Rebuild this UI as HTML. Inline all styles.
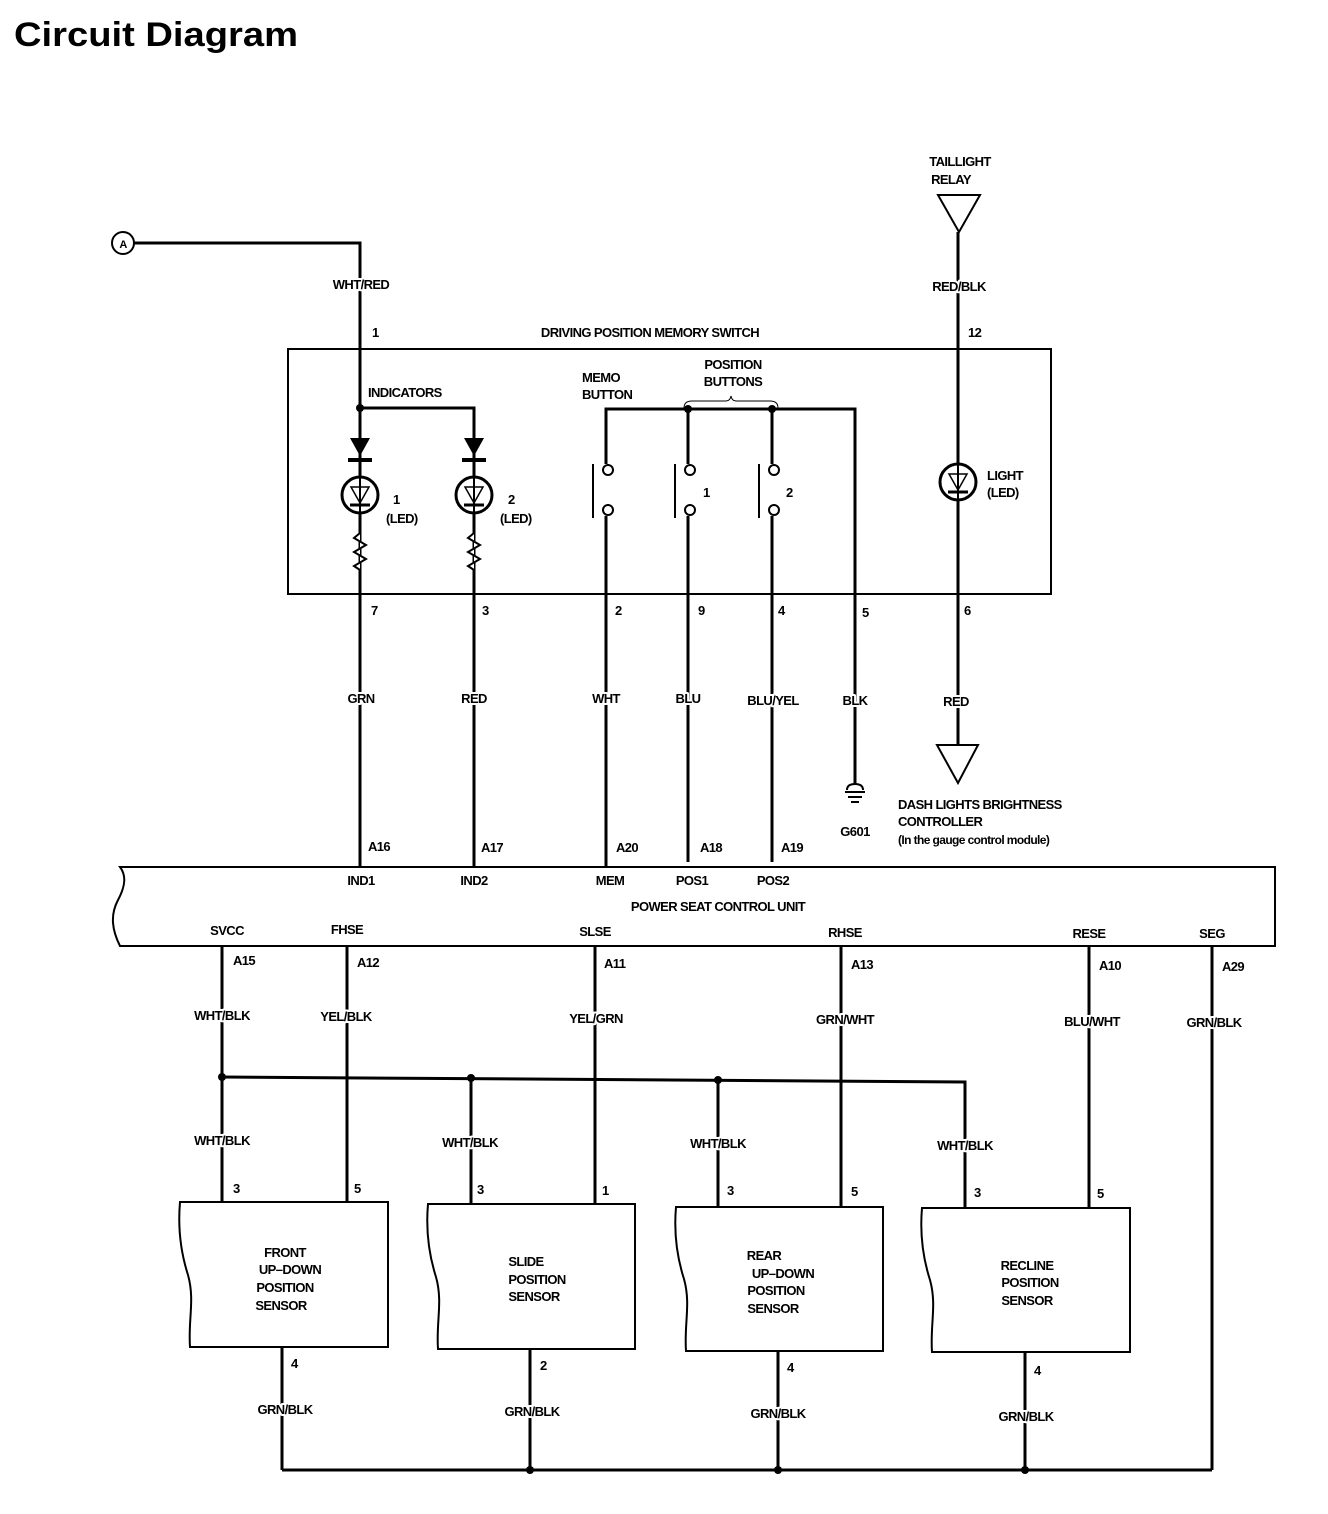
<!DOCTYPE html>
<html><head><meta charset="utf-8"><style>
html,body{margin:0;padding:0;background:#fff}
svg{display:block}
text{font-family:"Liberation Sans",sans-serif;font-weight:bold;font-size:13px;fill:#000;letter-spacing:-0.6px;stroke:#fff;stroke-width:4px;paint-order:stroke;stroke-linejoin:round}
.m{text-anchor:middle}
</style></head><body>
<svg width="1328" height="1514" viewBox="0 0 1328 1514" xmlns="http://www.w3.org/2000/svg">
<text x="14" y="46" textLength="284" lengthAdjust="spacingAndGlyphs" style="font-size:34px;letter-spacing:0;stroke:none">Circuit Diagram</text>

<g stroke="#000" fill="none" stroke-width="3">
<circle cx="123" cy="243" r="11" stroke-width="2"/>
<polyline points="134,243 360,243 360,845"/>
<polyline points="360,408 474,408 474,845"/>
<rect x="288" y="349" width="763" height="245" stroke-width="2"/>
<polyline points="606,464 606,409 855,409 855,785"/>
<line x1="688" y1="409" x2="688" y2="464"/>
<line x1="772" y1="409" x2="772" y2="464"/>
<line x1="606" y1="516" x2="606" y2="845"/>
<line x1="688" y1="516" x2="688" y2="862"/>
<line x1="772" y1="516" x2="772" y2="862"/>
<line x1="606" y1="845" x2="606" y2="867"/>
<line x1="360" y1="845" x2="360" y2="867"/>
<line x1="474" y1="845" x2="474" y2="867"/>
<line x1="958" y1="232" x2="958" y2="745"/>
<path d="M120,867 L1275,867 L1275,946 L120,946 C112,930 110,915 118,900 C126,885 126,875 120,867 Z" stroke-width="2"/>
<line x1="222" y1="946" x2="222" y2="1202"/>
<line x1="347" y1="946" x2="347" y2="1202"/>
<line x1="595" y1="946" x2="595" y2="1204"/>
<line x1="841" y1="946" x2="841" y2="1207"/>
<line x1="1089" y1="946" x2="1089" y2="1208"/>
<line x1="1212" y1="946" x2="1212" y2="1470"/>
<polyline points="222,1077 965,1082 965,1208"/>
<line x1="471" y1="1078" x2="471" y2="1204"/>
<line x1="718" y1="1080" x2="718" y2="1207"/>
<path d="M180,1202 L388,1202 L388,1347 L190,1347 C188,1320 195,1300 188,1275 C180,1250 178,1225 180,1202 Z" stroke-width="2"/>
<path d="M428,1204 L635,1204 L635,1349 L438,1349 C436,1322 443,1302 436,1277 C428,1252 426,1227 428,1204 Z" stroke-width="2"/>
<path d="M676,1207 L883,1207 L883,1351 L686,1351 C684,1324 691,1304 684,1279 C676,1254 674,1230 676,1207 Z" stroke-width="2"/>
<path d="M922,1208 L1130,1208 L1130,1352 L932,1352 C930,1325 937,1305 930,1280 C922,1255 920,1231 922,1208 Z" stroke-width="2"/>
<line x1="282" y1="1347" x2="282" y2="1470"/>
<line x1="530" y1="1349" x2="530" y2="1470"/>
<line x1="778" y1="1351" x2="778" y2="1470"/>
<line x1="1025" y1="1352" x2="1025" y2="1470"/>
<line x1="282" y1="1470" x2="1212" y2="1470"/>
</g>

<g fill="#000">
<circle cx="360" cy="408" r="4"/><circle cx="688" cy="409" r="4"/><circle cx="772" cy="409" r="4"/>
<circle cx="222" cy="1077" r="4"/><circle cx="471" cy="1078" r="4"/><circle cx="718" cy="1080" r="4"/>
<circle cx="530" cy="1470" r="4"/><circle cx="778" cy="1470" r="4"/><circle cx="1025" cy="1470" r="4"/>
</g>

<g>
<g transform="translate(360,0)">
<polygon points="-10,438 10,438 0,456" fill="#000"/>
<line x1="-12" y1="460" x2="12" y2="460" stroke="#000" stroke-width="4"/>
<circle cx="0" cy="495" r="18" fill="#fff" stroke="#000" stroke-width="3"/>
<polygon points="-9,487 9,487 0,503" fill="none" stroke="#000" stroke-width="1.5"/>
<line x1="-10" y1="505" x2="10" y2="505" stroke="#000" stroke-width="3"/>
<line x1="0" y1="477" x2="0" y2="513" stroke="#000" stroke-width="2"/>
<polyline points="0,533 -6,538 6,545 -6,552 6,559 -6,566 0,570" fill="#fff" stroke="#000" stroke-width="2"/>
</g>
<g transform="translate(474,0)">
<polygon points="-10,438 10,438 0,456" fill="#000"/>
<line x1="-12" y1="460" x2="12" y2="460" stroke="#000" stroke-width="4"/>
<circle cx="0" cy="495" r="18" fill="#fff" stroke="#000" stroke-width="3"/>
<polygon points="-9,487 9,487 0,503" fill="none" stroke="#000" stroke-width="1.5"/>
<line x1="-10" y1="505" x2="10" y2="505" stroke="#000" stroke-width="3"/>
<line x1="0" y1="477" x2="0" y2="513" stroke="#000" stroke-width="2"/>
<polyline points="0,533 -6,538 6,545 -6,552 6,559 -6,566 0,570" fill="#fff" stroke="#000" stroke-width="2"/>
</g>
<g transform="translate(958,-13)">
<circle cx="0" cy="495" r="18" fill="#fff" stroke="#000" stroke-width="3"/>
<polygon points="-9,487 9,487 0,503" fill="none" stroke="#000" stroke-width="1.5"/>
<line x1="-10" y1="505" x2="10" y2="505" stroke="#000" stroke-width="3"/>
<line x1="0" y1="477" x2="0" y2="513" stroke="#000" stroke-width="2"/>
</g>
</g>

<g stroke="#000" fill="#fff" stroke-width="2">
<line x1="593" y1="464" x2="593" y2="518"/><circle cx="608" cy="470" r="5"/><circle cx="608" cy="510" r="5"/>
<line x1="675" y1="464" x2="675" y2="518"/><circle cx="690" cy="470" r="5"/><circle cx="690" cy="510" r="5"/>
<line x1="759" y1="464" x2="759" y2="518"/><circle cx="774" cy="470" r="5"/><circle cx="774" cy="510" r="5"/>
<path d="M684,408 Q684,401 692,401 L726,401 Q730,401 731,396 Q732,401 736,401 L770,401 Q778,401 778,408" fill="none" stroke-width="1"/>
</g>

<g stroke="#000" stroke-width="2" fill="none">
<path d="M847,790 Q847,784 855,784 Q863,784 863,790"/>
<line x1="845" y1="792" x2="865" y2="792"/>
<line x1="848" y1="797" x2="862" y2="797"/>
<line x1="851" y1="802" x2="859" y2="802"/>
</g>

<polygon points="938,195 980,195 959,232" fill="#fff" stroke="#000" stroke-width="2"/>
<polygon points="937,745 978,745 958,783" fill="#fff" stroke="#000" stroke-width="2"/>

<text x="123" y="248" class="m" style="font-size:11px;stroke:none">A</text>
<text x="361" y="289" class="m">WHT/RED</text>
<text x="372" y="337">1</text>
<text x="650" y="337" class="m">DRIVING POSITION MEMORY SWITCH</text>
<text x="968" y="337">12</text>
<text x="960" y="166" class="m">TAILLIGHT</text>
<text x="951" y="184" class="m">RELAY</text>
<text x="959" y="291" class="m">RED/BLK</text>
<text x="368" y="397">INDICATORS</text>
<text x="582" y="382">MEMO</text>
<text x="582" y="399">BUTTON</text>
<text x="733" y="369" class="m">POSITION</text>
<text x="733" y="386" class="m">BUTTONS</text>
<text x="393" y="504">1</text>
<text x="386" y="523">(LED)</text>
<text x="508" y="504">2</text>
<text x="500" y="523">(LED)</text>
<text x="703" y="497">1</text>
<text x="786" y="497">2</text>
<text x="987" y="480">LIGHT</text>
<text x="987" y="497">(LED)</text>

<text x="371" y="615">7</text><text x="482" y="615">3</text><text x="615" y="615">2</text>
<text x="698" y="615">9</text><text x="778" y="615">4</text><text x="862" y="617">5</text><text x="964" y="615">6</text>

<text x="361" y="703" class="m">GRN</text><text x="474" y="703" class="m">RED</text><text x="606" y="703" class="m">WHT</text>
<text x="688" y="703" class="m">BLU</text><text x="773" y="705" class="m">BLU/YEL</text><text x="855" y="705" class="m">BLK</text>
<text x="956" y="706" class="m">RED</text>

<text x="855" y="836" class="m">G601</text>
<text x="898" y="809">DASH LIGHTS BRIGHTNESS</text>
<text x="898" y="826">CONTROLLER</text>
<text x="898" y="844" style="font-size:12px">(In the gauge control module)</text>

<text x="368" y="851">A16</text><text x="481" y="852">A17</text><text x="616" y="852">A20</text>
<text x="700" y="852">A18</text><text x="781" y="852">A19</text>

<text x="361" y="885" class="m">IND1</text><text x="474" y="885" class="m">IND2</text><text x="610" y="885" class="m">MEM</text>
<text x="692" y="885" class="m">POS1</text><text x="773" y="885" class="m">POS2</text>
<text x="718" y="911" class="m">POWER SEAT CONTROL UNIT</text>
<text x="227" y="935" class="m">SVCC</text><text x="347" y="934" class="m">FHSE</text><text x="595" y="936" class="m">SLSE</text>
<text x="845" y="937" class="m">RHSE</text><text x="1089" y="938" class="m">RESE</text><text x="1212" y="938" class="m">SEG</text>

<text x="233" y="965">A15</text><text x="357" y="967">A12</text><text x="604" y="968">A11</text>
<text x="851" y="969">A13</text><text x="1099" y="970">A10</text><text x="1222" y="971">A29</text>

<text x="222" y="1020" class="m">WHT/BLK</text><text x="346" y="1021" class="m">YEL/BLK</text><text x="596" y="1023" class="m">YEL/GRN</text>
<text x="845" y="1024" class="m">GRN/WHT</text><text x="1092" y="1026" class="m">BLU/WHT</text><text x="1214" y="1027" class="m">GRN/BLK</text>

<text x="222" y="1145" class="m">WHT/BLK</text><text x="470" y="1147" class="m">WHT/BLK</text>
<text x="718" y="1148" class="m">WHT/BLK</text><text x="965" y="1150" class="m">WHT/BLK</text>

<text x="233" y="1193">3</text><text x="354" y="1193">5</text><text x="477" y="1194">3</text><text x="602" y="1195">1</text>
<text x="727" y="1195">3</text><text x="851" y="1196">5</text><text x="974" y="1197">3</text><text x="1097" y="1198">5</text>

<text x="285" y="1257" class="m">FRONT</text><text x="290" y="1274" class="m">UP–DOWN</text>
<text x="285" y="1292" class="m">POSITION</text><text x="281" y="1310" class="m">SENSOR</text>
<text x="526" y="1266" class="m">SLIDE</text><text x="537" y="1284" class="m">POSITION</text><text x="534" y="1301" class="m">SENSOR</text>
<text x="764" y="1260" class="m">REAR</text><text x="783" y="1278" class="m">UP–DOWN</text>
<text x="776" y="1295" class="m">POSITION</text><text x="773" y="1313" class="m">SENSOR</text>
<text x="1027" y="1270" class="m">RECLINE</text><text x="1030" y="1287" class="m">POSITION</text><text x="1027" y="1305" class="m">SENSOR</text>

<text x="291" y="1368">4</text><text x="540" y="1370">2</text><text x="787" y="1372">4</text><text x="1034" y="1375">4</text>
<text x="285" y="1414" class="m">GRN/BLK</text><text x="532" y="1416" class="m">GRN/BLK</text>
<text x="778" y="1418" class="m">GRN/BLK</text><text x="1026" y="1421" class="m">GRN/BLK</text>
</svg>
</body></html>
